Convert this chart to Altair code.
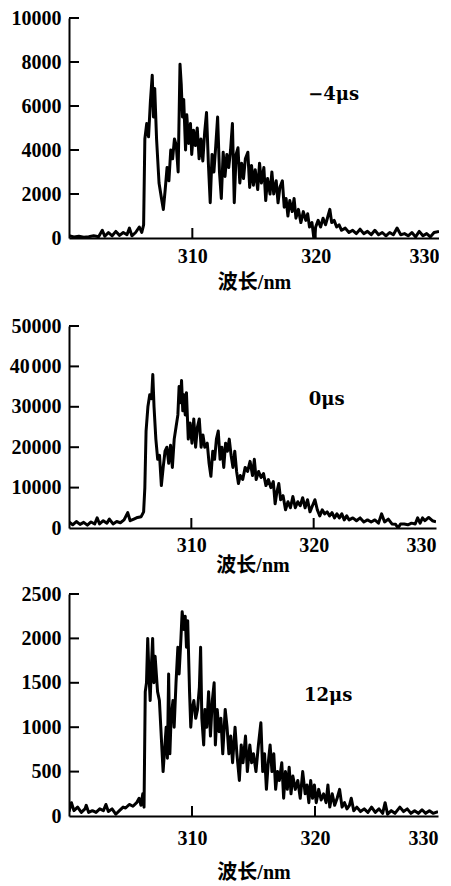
import altair as alt
import pandas as pd

# ---- data (wavelength nm, intensity) ----
spec_m4 = [
    (300.0, 100), (300.4, 50), (300.8, 80), (301.2, 40), (301.6, 60), (302.0, 100), (302.4, 60),
    (302.7, 350), (302.9, 80), (303.2, 250), (303.5, 100), (303.8, 300), (304.1, 120), (304.4, 250),
    (304.7, 150), (304.9, 450), (305.1, 100), (305.4, 250), (305.7, 500), (305.9, 250), (306.05, 600),
    (306.15, 4500), (306.3, 5200), (306.45, 4600), (306.6, 6200), (306.75, 7400), (306.85, 5500),
    (306.95, 6800), (307.1, 4500), (307.3, 2500), (307.5, 1800), (307.65, 1300), (307.8, 2200),
    (307.95, 3200), (308.1, 2600), (308.25, 4000), (308.4, 3600), (308.55, 4500), (308.7, 4200),
    (308.85, 3000), (309.0, 7900), (309.1, 7000), (309.2, 5500), (309.3, 6300), (309.45, 4000),
    (309.55, 5600), (309.7, 4300), (309.85, 5200), (309.95, 3800), (310.1, 4900), (310.25, 4200),
    (310.4, 5000), (310.55, 3600), (310.7, 4500), (310.85, 3500), (311.0, 4800), (311.15, 5700),
    (311.3, 3400), (311.45, 1600), (311.6, 3800), (311.75, 3000), (311.9, 4200), (312.05, 5500),
    (312.2, 3000), (312.35, 1800), (312.5, 3900), (312.65, 2800), (312.8, 3800), (312.95, 3200),
    (313.1, 4000), (313.25, 5200), (313.4, 1600), (313.55, 3800), (313.7, 4100), (313.85, 2500),
    (314.0, 3400), (314.15, 2700), (314.3, 3600), (314.5, 3900), (314.65, 2300), (314.8, 3300),
    (314.95, 2400), (315.1, 3100), (315.3, 2200), (315.45, 3400), (315.6, 2500), (315.8, 3200),
    (315.95, 1700), (316.1, 2700), (316.3, 2000), (316.45, 3000), (316.6, 2000), (316.8, 2600),
    (316.95, 1600), (317.1, 2300), (317.3, 2600), (317.45, 1400), (317.6, 1800), (317.75, 1000),
    (317.9, 1700), (318.1, 1200), (318.25, 1800), (318.4, 900), (318.6, 1300), (318.8, 700),
    (319.0, 1200), (319.2, 800), (319.35, 1100), (319.5, 500), (319.7, 700), (319.85, 0),
    (320.0, 500), (320.2, 800), (320.4, 500), (320.6, 900), (320.8, 600), (321.0, 1000),
    (321.15, 1300), (321.3, 700), (321.5, 800), (321.7, 500), (321.9, 600), (322.1, 350),
    (322.4, 450), (322.7, 250), (323.0, 350), (323.3, 200), (323.6, 400), (323.9, 200),
    (324.2, 300), (324.5, 150), (324.8, 350), (325.1, 150), (325.4, 250), (325.7, 100),
    (326.0, 250), (326.3, 150), (326.6, 450), (326.9, 150), (327.2, 200), (327.5, 100),
    (327.8, 250), (328.1, 50), (328.4, 300), (328.7, 100), (329.0, 200), (329.3, 50),
    (329.6, 250), (330.0, 300),
]

spec_0 = [
    (300.0, 1500), (300.3, 800), (300.6, 1600), (300.9, 900), (301.2, 1400), (301.5, 700),
    (301.8, 1500), (302.1, 1000), (302.3, 2500), (302.5, 1000), (302.8, 1800), (303.1, 1200),
    (303.3, 2200), (303.6, 1000), (303.9, 1600), (304.2, 1300), (304.5, 2000), (304.8, 3800),
    (305.0, 1800), (305.3, 2200), (305.6, 2600), (305.9, 2800), (306.1, 4000), (306.2, 10000),
    (306.3, 24000), (306.45, 30000), (306.6, 33000), (306.75, 32000), (306.85, 38000),
    (306.95, 30000), (307.1, 22000), (307.25, 17000), (307.4, 18000), (307.55, 10500),
    (307.7, 15000), (307.85, 19000), (308.0, 20000), (308.15, 16000), (308.3, 20500),
    (308.45, 15000), (308.6, 22000), (308.75, 25000), (308.9, 28000), (309.0, 35000),
    (309.1, 31000), (309.2, 36500), (309.3, 29000), (309.4, 33000), (309.5, 28000),
    (309.6, 33500), (309.75, 22000), (309.9, 26000), (310.05, 21000), (310.2, 27000),
    (310.35, 20000), (310.5, 25000), (310.65, 27000), (310.8, 20000), (310.95, 23000),
    (311.1, 20000), (311.3, 21000), (311.45, 16000), (311.6, 12800), (311.75, 19000),
    (311.9, 17000), (312.05, 22000), (312.2, 24000), (312.35, 17000), (312.5, 20000),
    (312.65, 15000), (312.8, 21000), (312.95, 19000), (313.1, 22000), (313.25, 18000),
    (313.4, 15000), (313.55, 19000), (313.7, 14000), (313.85, 11000), (314.0, 13000),
    (314.2, 12000), (314.4, 15000), (314.6, 14000), (314.8, 16500), (315.0, 13000),
    (315.15, 17000), (315.3, 12000), (315.5, 14000), (315.7, 12500), (315.9, 13500),
    (316.1, 10500), (316.3, 12000), (316.5, 10000), (316.7, 11500), (316.85, 6000),
    (317.0, 9000), (317.15, 11000), (317.3, 7000), (317.5, 8000), (317.7, 4500), (317.9, 6500),
    (318.1, 5000), (318.3, 7800), (318.5, 5000), (318.7, 6500), (318.9, 5500), (319.1, 7500),
    (319.3, 5000), (319.5, 7000), (319.7, 4000), (319.9, 5500), (320.1, 7000), (320.3, 4500),
    (320.5, 3000), (320.7, 4500), (320.9, 3500), (321.1, 4000), (321.3, 3000), (321.5, 3800),
    (321.7, 2500), (321.9, 3500), (322.1, 2500), (322.3, 3500), (322.5, 2000), (322.7, 3000),
    (322.9, 2000), (323.2, 2500), (323.5, 1800), (323.8, 2500), (324.1, 1500), (324.4, 2000),
    (324.7, 1500), (325.0, 2000), (325.3, 1200), (325.55, 3500), (325.8, 1500), (326.1, 2200),
    (326.4, 1000), (326.7, 900), (326.9, 0), (327.1, 1000), (327.4, 1000), (327.7, 800),
    (328.0, 1200), (328.3, 1000), (328.5, 2500), (328.7, 1200), (328.9, 2500), (329.1, 1800),
    (329.4, 2600), (329.7, 1800), (330.0, 1500),
]

spec_12 = [
    (300.0, 50), (300.2, 150), (300.4, 60), (300.7, 100), (301.0, 40), (301.3, 80), (301.4, 120),
    (301.6, 40), (301.9, 60), (302.2, 40), (302.5, 80), (302.8, 60), (303.0, 130), (303.2, 50),
    (303.5, 80), (303.8, 20), (304.1, 60), (304.4, 100), (304.6, 90), (304.9, 130), (305.2, 110),
    (305.5, 150), (305.7, 200), (305.85, 120), (306.0, 250), (306.1, 100), (306.2, 1400),
    (306.3, 1500), (306.4, 2000), (306.5, 1600), (306.6, 1300), (306.7, 1700), (306.8, 2000),
    (306.9, 1500), (307.0, 1800), (307.2, 1400), (307.35, 1300), (307.5, 900), (307.65, 500),
    (307.8, 800), (307.9, 1000), (308.0, 650), (308.1, 1600), (308.2, 700), (308.3, 1100),
    (308.45, 1300), (308.55, 1000), (308.7, 1500), (308.85, 1900), (308.95, 1600), (309.1, 2000),
    (309.2, 2300), (309.35, 2100), (309.45, 2250), (309.55, 1900), (309.65, 2200), (309.8, 1400),
    (309.9, 1000), (310.0, 1200), (310.15, 1300), (310.3, 1100), (310.45, 1200), (310.6, 1450),
    (310.7, 1900), (310.8, 1100), (310.95, 800), (311.05, 1200), (311.2, 1000), (311.35, 1400),
    (311.5, 900), (311.65, 1300), (311.8, 1500), (311.9, 800), (312.05, 1200), (312.2, 950),
    (312.35, 1100), (312.5, 700), (312.7, 1200), (312.85, 1000), (313.0, 700), (313.15, 900),
    (313.3, 600), (313.5, 1000), (313.65, 700), (313.85, 400), (314.0, 800), (314.15, 600),
    (314.35, 900), (314.5, 500), (314.7, 800), (314.85, 600), (315.0, 700), (315.2, 500),
    (315.4, 800), (315.6, 1050), (315.75, 500), (315.9, 700), (316.05, 300), (316.2, 600),
    (316.35, 800), (316.5, 500), (316.65, 700), (316.8, 300), (316.95, 500), (317.1, 400),
    (317.3, 600), (317.45, 200), (317.6, 500), (317.75, 300), (317.9, 550), (318.05, 250),
    (318.2, 450), (318.4, 300), (318.6, 400), (318.8, 200), (319.0, 500), (319.2, 250),
    (319.35, 350), (319.5, 150), (319.65, 400), (319.8, 200), (319.95, 350), (320.1, 150),
    (320.3, 300), (320.5, 180), (320.7, 250), (320.9, 150), (321.05, 350), (321.2, 100),
    (321.4, 250), (321.6, 120), (321.8, 200), (322.0, 300), (322.2, 100), (322.4, 150),
    (322.6, 80), (322.8, 120), (322.95, 200), (323.15, 60), (323.4, 100), (323.7, 50),
    (324.0, 80), (324.3, 40), (324.6, 100), (324.9, 40), (325.2, 80), (325.5, 30), (325.7, 150),
    (325.9, 20), (326.2, 60), (326.5, 30), (326.9, 100), (327.2, 50), (327.5, 80), (327.8, 30),
    (328.1, 60), (328.4, 30), (328.7, 70), (329.0, 30), (329.3, 60), (329.6, 30), (330.0, 50),
]

x_ticks = [310, 320, 330]
x_inner_ticks = [310, 320]
y_ticks_m4 = [0, 2000, 4000, 6000, 8000, 10000]
y_ticks_0 = [0, 10000, 20000, 30000, 40000, 50000]
y_ticks_12 = [0, 500, 1000, 1500, 2000, 2500]
labels = ["−4μs", "0μs", "12μs"]
label_pos = [(319.4, 6500), (319.6, 31700), (319.1, 1350)]
x_title = "波长/nm"

LABEL_FONT = "Liberation Serif"
TEXT_FONT = "DejaVu Serif"
FS = 20


def panel(pairs, yticks, label, pos, width, height, lab_pad, title_pad, label_expr=None):
    df = pd.DataFrame(pairs, columns=["wl", "v"])
    yaxis_kw = dict(values=yticks, title=None, format="d", labelPadding=8)
    if label_expr:
        yaxis_kw["labelExpr"] = label_expr
    xs = alt.X("wl:Q", scale=alt.Scale(domain=[300, 330], nice=False, zero=False),
               axis=alt.Axis(values=x_ticks, title=x_title, format="d",
                             labelPadding=lab_pad, titlePadding=title_pad))
    ys = alt.Y("v:Q", scale=alt.Scale(domain=[0, yticks[-1]], nice=False),
               axis=alt.Axis(**yaxis_kw))
    line = alt.Chart(df).mark_line(color="black", strokeWidth=3, strokeJoin="round",
                                   clip=True).encode(x=xs, y=ys)
    ytk = alt.Chart(pd.DataFrame({"v": yticks[1:]})).mark_rule(
        color="black", strokeWidth=2).encode(y="v:Q", x=alt.value(0), x2=alt.value(10))
    xtk = alt.Chart(pd.DataFrame({"wl": x_inner_ticks})).mark_rule(
        color="black", strokeWidth=2).encode(x="wl:Q", y=alt.value(height),
                                             y2=alt.value(height - 10))
    txt = alt.Chart(pd.DataFrame({"wl": [pos[0]], "v": [pos[1]], "t": [label]})).mark_text(
        align="left", baseline="middle", font=TEXT_FONT, fontSize=18, fontWeight="bold",
        color="black").encode(x="wl:Q", y="v:Q", text="t:N")
    return alt.layer(line, ytk, xtk, txt).properties(width=width, height=height)


p1 = panel(spec_m4, y_ticks_m4, labels[0], label_pos[0], 370, 220, 8, 6)
p2 = panel(spec_0, y_ticks_0, labels[1], label_pos[1], 367, 202, 7, 0,
           label_expr="datum.value == 40000 ? '40\u200a000' : datum.label")
p3 = panel(spec_12, y_ticks_12, labels[2], label_pos[2], 369, 222, 12, 14)

chart = alt.vconcat(p1, alt.vconcat(p2, p3, spacing=9), spacing=24).properties(
    padding={"left": 1, "top": 0, "right": 0, "bottom": 0}
).configure_axis(
    domainColor="black", domainWidth=2, ticks=False, grid=False,
    labelFont=LABEL_FONT, labelFontSize=FS, labelFontWeight="bold", labelColor="black",
    titleFont="Liberation Serif, Noto Sans CJK SC", titleFontSize=FS, titleFontWeight="bold",
    titleColor="black",
).configure_view(stroke=None)

chart.save("out.html", embed_options={"renderer": "svg", "actions": False})
